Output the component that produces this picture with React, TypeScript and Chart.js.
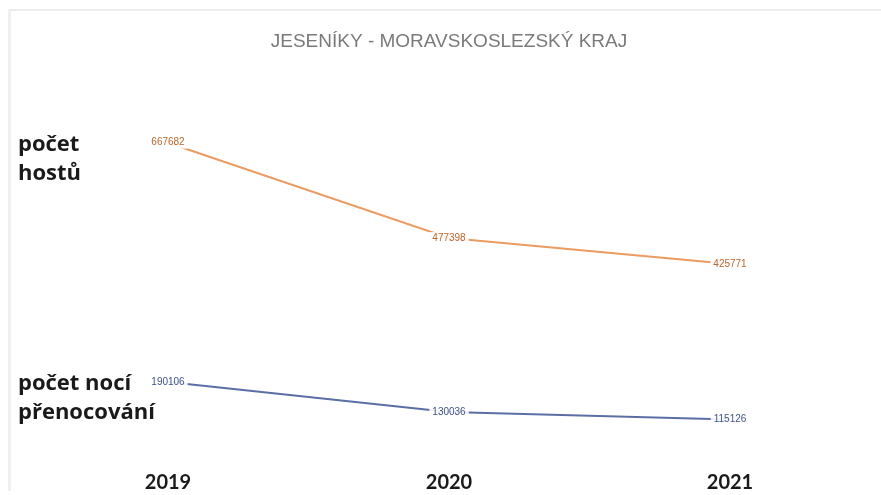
import React, { useEffect, useRef } from "react";
import { Chart, registerables } from "chart.js";

Chart.register(...registerables);

const years = ["2019", "2020", "2021"];
const guests = [667682, 477398, 425771];
const nights = [190106, 130036, 115126];
const title = "JESENÍKY - MORAVSKOSLEZSKÝ KRAJ";
const guestsLabel = ["počet", "hostů"];
const nightsLabel = ["počet nocí", "přenocování"];

const labelPlugin = {
  id: "pointLabels",
  afterDatasetsDraw(chart: any) {
    const ctx = chart.ctx;
    ctx.save();
    ctx.font = "10px 'Liberation Sans', sans-serif";
    ctx.textAlign = "center";
    ctx.textBaseline = "middle";
    chart.data.datasets.forEach((ds: any, i: number) => {
      const meta = chart.getDatasetMeta(i);
      meta.data.forEach((pt: any, j: number) => {
        const txt = String(ds.data[j]);
        const w = ctx.measureText(txt).width + 6;
        ctx.fillStyle = "rgba(255,255,255,0.9)";
        ctx.fillRect(pt.x - w / 2, pt.y - 6, w, 12);
        ctx.fillStyle = ds.labelColor;
        ctx.fillText(txt, pt.x, pt.y);
      });
    });
    ctx.restore();
  },
};

export default function App() {
  const ref = useRef<HTMLCanvasElement>(null);
  useEffect(() => {
    document.body.style.margin = "0";
    const chart = new Chart(ref.current!, {
      type: "line",
      data: {
        labels: years,
        datasets: [
          {
            label: "hosté",
            data: guests,
            borderColor: "#EC9B62",
            borderWidth: 2,
            pointRadius: 0,
            tension: 0,
            labelColor: "#B8682F",
          } as any,
          {
            label: "noci",
            data: nights,
            borderColor: "#5B6FA6",
            borderWidth: 2,
            pointRadius: 0,
            tension: 0,
            labelColor: "#3F5288",
          } as any,
        ],
      },
      options: {
        animation: false,
        responsive: false,
        layout: { padding: { left: 168, right: 151, top: 20, bottom: 0 } },
        plugins: {
          legend: { display: false },
          tooltip: { enabled: false },
          title: {
            display: true,
            text: title,
            color: "#7a7a7a",
            font: { family: "'Liberation Sans', sans-serif", size: 19, weight: "normal" },
            padding: { top: 10, bottom: 9 },
          },
        },
        scales: {
          x: {
            offset: false,
            grid: { display: false },
            border: { display: false },
            ticks: {
              color: "#1a1a1a",
              font: { family: "Lato, sans-serif", size: 20, weight: "bold" },
              padding: 0,
              maxRotation: 0,
            },
          },
          y: {
            display: false,
            min: 28400,
            max: 829200,
          },
        },
      },
      plugins: [labelPlugin],
    });
    return () => chart.destroy();
  }, []);

  const textStyle: React.CSSProperties = {
    position: "absolute",
    left: 18,
    fontFamily: "'Open Sans', sans-serif",
    fontWeight: 700,
    fontSize: 22,
    lineHeight: "29px",
    color: "#1a1a1a",
  };

  return (
    <div
      style={{
        position: "absolute",
        left: 0,
        top: 0,
        width: 881,
        height: 495,
        background: "#fff",
        overflow: "hidden",
      }}
    >
      <div
        style={{
          position: "absolute",
          left: 8,
          top: 9,
          width: 873,
          height: 480,
          borderTop: "2px solid #ececec",
          borderLeft: "3px solid #f0f0f0",
        }}
      />
      <canvas ref={ref} width={881} height={495} style={{ position: "absolute", left: 0, top: 0 }} />
      <div style={{ ...textStyle, top: 128 }}>
        {guestsLabel[0]}
        <br />
        {guestsLabel[1]}
      </div>
      <div style={{ ...textStyle, top: 367 }}>
        {nightsLabel[0]}
        <br />
        {nightsLabel[1]}
      </div>
    </div>
  );
}
